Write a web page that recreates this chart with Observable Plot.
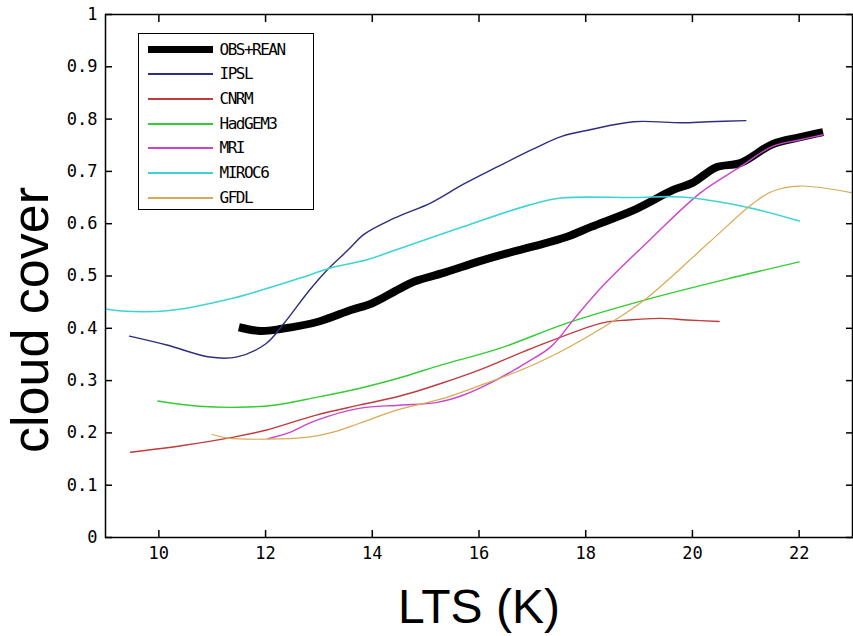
<!DOCTYPE html>
<html><head><meta charset="utf-8">
<script src="https://cdn.jsdelivr.net/npm/d3@7"></script>
<script src="https://cdn.jsdelivr.net/npm/@observablehq/plot@0.6"></script>
<style>
body{margin:0;background:#fff;}
#wrap{position:relative;width:853px;height:636px;}
#legend{position:absolute;left:138px;top:33px;width:176px;height:177px;box-sizing:border-box;border:1.5px solid #000;background:#fff;}
.sw{position:absolute;left:8.5px;width:65px;}
.lb{position:absolute;left:80.5px;font-family:"DejaVu Sans Mono",monospace;font-size:16px;letter-spacing:-1.5px;line-height:1;color:#000;white-space:nowrap;transform:translateY(-50%);}
#ylab{position:absolute;left:30px;top:320px;font-family:"Liberation Sans",Arial,sans-serif;font-size:52px;line-height:1;white-space:nowrap;color:#000;transform:translate(-50%,-50%) rotate(-90deg);}
</style></head><body><div id="wrap"></div>
<script>
// ---- data ----
const seriesNames = ["OBS+REAN","IPSL","CNRM","HadGEM3","MRI","MIROC6","GFDL"];
const seriesColors = ["#000000","#2e2e7e","#c03c3c","#33cc33","#cc44cc","#3fd4d4","#d8aa55"];
const seriesWidths = [8,1.4,1.4,1.4,1.4,1.6,1.2];

const ltsOBS = [11.5,11.9,12.3,13.0,13.6,14.0,14.5,14.8,15.3,16.0,16.4,17.0,17.65,18.1,18.9,19.65,20.0,20.45,20.9,21.5,22.0,22.45];
const ccOBS  = [0.402,0.395,0.399,0.413,0.435,0.448,0.475,0.490,0.505,0.528,0.540,0.556,0.575,0.594,0.626,0.665,0.678,0.708,0.716,0.752,0.765,0.775];

const ltsIPSL = [9.45,10.15,10.95,11.45,12.0,12.35,12.8,13.15,13.55,13.85,14.4,15.1,15.7,16.35,17.0,17.55,18.1,18.9,19.8,20.3,21.0];
const ccIPSL  = [0.385,0.368,0.345,0.345,0.370,0.410,0.470,0.511,0.550,0.580,0.610,0.640,0.675,0.709,0.742,0.767,0.780,0.795,0.793,0.795,0.797];

const ltsCNRM = [9.47,10.45,11.4,12.0,12.95,13.75,14.5,15.3,16.0,17.0,18.3,18.8,19.4,19.9,20.5];
const ccCNRM  = [0.163,0.176,0.192,0.205,0.234,0.253,0.270,0.295,0.320,0.362,0.410,0.416,0.419,0.416,0.413];

const ltsHad = [9.98,10.75,11.5,12.15,12.95,13.75,14.5,15.3,16.4,17.65,19.1,20.8,22.0];
const ccHad  = [0.261,0.251,0.249,0.253,0.268,0.285,0.305,0.330,0.362,0.410,0.454,0.498,0.527];

const ltsMRI = [12.05,12.4,12.95,13.75,14.5,15.2,15.7,16.3,16.9,17.35,17.8,18.3,19.2,20.15,20.9,21.5,22.0,22.45];
const ccMRI  = [0.189,0.199,0.224,0.247,0.253,0.258,0.272,0.300,0.335,0.365,0.420,0.479,0.569,0.659,0.709,0.748,0.760,0.770];

const ltsMIROC = [9.0,9.3,10.2,11.4,12.65,13.2,13.9,14.45,15.7,16.95,17.55,18.9,19.8,21.0,22.0];
const ccMIROC  = [0.437,0.433,0.434,0.458,0.496,0.515,0.531,0.550,0.594,0.636,0.649,0.650,0.651,0.632,0.605];

const ltsGFDL = [11.0,11.3,12.0,12.8,13.25,13.75,14.5,15.3,16.0,16.9,17.65,18.3,19.1,20.3,21.15,21.5,22.0,23.0];
const ccGFDL  = [0.197,0.190,0.188,0.192,0.201,0.218,0.245,0.265,0.290,0.325,0.362,0.400,0.454,0.563,0.640,0.662,0.672,0.659];

const xTicks = [10,12,14,16,18,20,22];
const yTicks = [0,0.1,0.2,0.3,0.4,0.5,0.6,0.7,0.8,0.9,1];
const xLabel = ["LTS (K)"];
const yLabel = ["cloud cover"];

// ---- build ----
const seriesX = [ltsOBS,ltsIPSL,ltsCNRM,ltsHad,ltsMRI,ltsMIROC,ltsGFDL];
const seriesY = [ccOBS,ccIPSL,ccCNRM,ccHad,ccMRI,ccMIROC,ccGFDL];
const tables = seriesNames.map((name,i)=>seriesX[i].map((x,j)=>({series:name,lts:x,cc:seriesY[i][j]})));

const lineMarks = tables.map((t,i)=>Plot.line(t,{x:"lts",y:"cc",stroke:seriesColors[i],strokeWidth:seriesWidths[i],strokeLinecap:i===0?"butt":"round",curve:"catmull-rom"}));
const yFmt = d => d===0 ? "0" : d===1 ? "1" : d.toFixed(1);

const chart = Plot.plot({
  width:853, height:636,
  marginLeft:105, marginRight:1, marginTop:14, marginBottom:99,
  x:{domain:[9,23]}, y:{domain:[0,1]},
  style:{fontFamily:"'DejaVu Sans Mono', monospace", fontSize:"17px", color:"#000", background:"#fff"},
  marks:[
    ...lineMarks,
    Plot.axisX(xTicks,{anchor:"bottom",tickSize:-7,tickPadding:16,strokeWidth:1.5,label:null,tickFormat:d=>String(d)}),
    Plot.axisX(xTicks,{anchor:"top",tickSize:-7,strokeWidth:1.5,label:null,tickFormat:()=>""}),
    Plot.axisY(yTicks,{anchor:"left",tickSize:-7,tickPadding:15,strokeWidth:1.5,label:null,tickFormat:yFmt}),
    Plot.axisY(yTicks,{anchor:"right",tickSize:-7,strokeWidth:1.5,label:null,tickFormat:()=>""}),
    Plot.frame({stroke:"#000",strokeWidth:1.5}),
    Plot.text(xLabel,{frameAnchor:"bottom",dy:85,fontSize:48,fontFamily:"'Liberation Sans', Arial, sans-serif"})
  ]
});
const wrap = document.getElementById("wrap");
wrap.appendChild(chart);

// y axis title
const yl = document.createElement("div");
yl.id = "ylab";
yl.textContent = yLabel[0];
wrap.appendChild(yl);

// legend (HTML overlay)
const leg = document.createElement("div");
leg.id = "legend";
seriesNames.forEach((name,i)=>{
  const cy = 15.5 + 24.7*i;
  const sw = document.createElement("div");
  sw.className = "sw";
  const h = i===0 ? 7 : 2;
  sw.style.top = Math.round(cy - h/2) + "px";
  sw.style.height = h + "px";
  sw.style.background = seriesColors[i];
  leg.appendChild(sw);
  const lb = document.createElement("div");
  lb.className = "lb";
  lb.style.top = cy + "px";
  lb.textContent = name;
  leg.appendChild(lb);
});
wrap.appendChild(leg);
</script></body></html>
